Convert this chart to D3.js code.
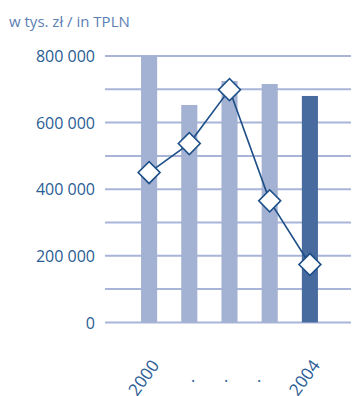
<!DOCTYPE html>
<html>
<head>
<meta charset="utf-8">
<script src="https://cdn.jsdelivr.net/npm/d3@7"></script>
<style>
  html, body { margin: 0; padding: 0; background: #fff; }
  svg { display: block; }
  text { font-family: "Open Sans", sans-serif; }
</style>
</head>
<body>
<svg id="chart" width="354" height="396"></svg>
<script>
// Years and their axis labels
const years = ["2000", "2001", "2002", "2003", "2004"];
const yearLabels = ["2000", ".", ".", ".", "2004"];
// Bar series (w tys. zł)
const barValues = [800000, 653000, 725000, 716000, 680000];
// Line series (w tys. zł)
const lineValues = [450000, 537000, 699000, 365000, 174000];
// Value axis ticks
const yTicks = [0, 200000, 400000, 600000, 800000];
const yGrid = [0, 100000, 200000, 300000, 400000, 500000, 600000, 700000, 800000];

const svg = d3.select("#chart");
const gridLeft = 105, gridRight = 351;

const x = d3.scaleBand().domain(years).range([129, 330]).paddingInner(0.6).paddingOuter(0.3);
const y = d3.scaleLinear().domain([0, 800000]).range([322.4, 56]);
// The elided middle years sit as dots in a tighter row
const gap = d3.scalePoint().domain(years.slice(1, 4)).range([189, 255]);

const fmt = v => d3.format(",")(v).replace(/,/g, " ");

// Unit caption
svg.append("text")
  .attr("x", 9).attr("y", 27)
  .attr("font-size", 15)
  .attr("fill", "#5b80b4")
  .text("w tys. zł / in TPLN");

// Horizontal gridlines
svg.append("g").selectAll("line").data(yGrid).join("line")
  .attr("x1", gridLeft).attr("x2", gridRight)
  .attr("y1", d => y(d)).attr("y2", d => y(d))
  .attr("stroke", "#a8b5d8").attr("stroke-width", 2);

// Value axis labels
const yAxis = d3.axisLeft(y).tickValues(yTicks).tickFormat(fmt).tickSize(0).tickPadding(0);
const ya = svg.append("g").attr("transform", "translate(95,0)").call(yAxis);
ya.select(".domain").remove();
ya.selectAll("text")
  .attr("font-size", 16)
  .attr("font-family", "'Open Sans', sans-serif")
  .attr("fill", "#2a5d96")
  .attr("dy", "0.35em");

// Bars
svg.append("g").selectAll("rect").data(barValues).join("rect")
  .attr("x", (d, i) => x(years[i]))
  .attr("width", x.bandwidth())
  .attr("y", d => y(d))
  .attr("height", d => y(0) - y(d))
  .attr("fill", (d, i) => i === years.length - 1 ? "#476a9f" : "#a3b1d2");

// Line series
const cx = (d, i) => x(years[i]) + x.bandwidth() / 2;
svg.append("path")
  .datum(lineValues)
  .attr("fill", "none")
  .attr("stroke", "#1d4f88")
  .attr("stroke-width", 1.6)
  .attr("d", d3.line().x(cx).y(d => y(d)));

// Diamond markers
const diamond = d3.symbol().type(d3.symbolSquare).size(240);
svg.append("g").selectAll("path").data(lineValues).join("path")
  .attr("d", diamond)
  .attr("transform", (d, i) => `translate(${cx(d, i)},${y(d)}) rotate(45)`)
  .attr("fill", "#fff")
  .attr("stroke", "#1d4f88")
  .attr("stroke-width", 1.6);

// Category labels, rotated
svg.append("g").selectAll("text").data(yearLabels).join("text")
  .attr("transform", (d, i) => {
    return d.length > 1
      ? `translate(${cx(null, i) + 6},${362}) rotate(-54)`
      : `translate(${gap(years[i])},${378}) rotate(-54)`;
  })
  .attr("text-anchor", d => d.length > 1 ? "end" : "middle")
  .attr("dy", "0.35em")
  .attr("font-size", 17)
  .attr("fill", "#2a5d96")
  .text(d => d);
</script>
</body>
</html>
